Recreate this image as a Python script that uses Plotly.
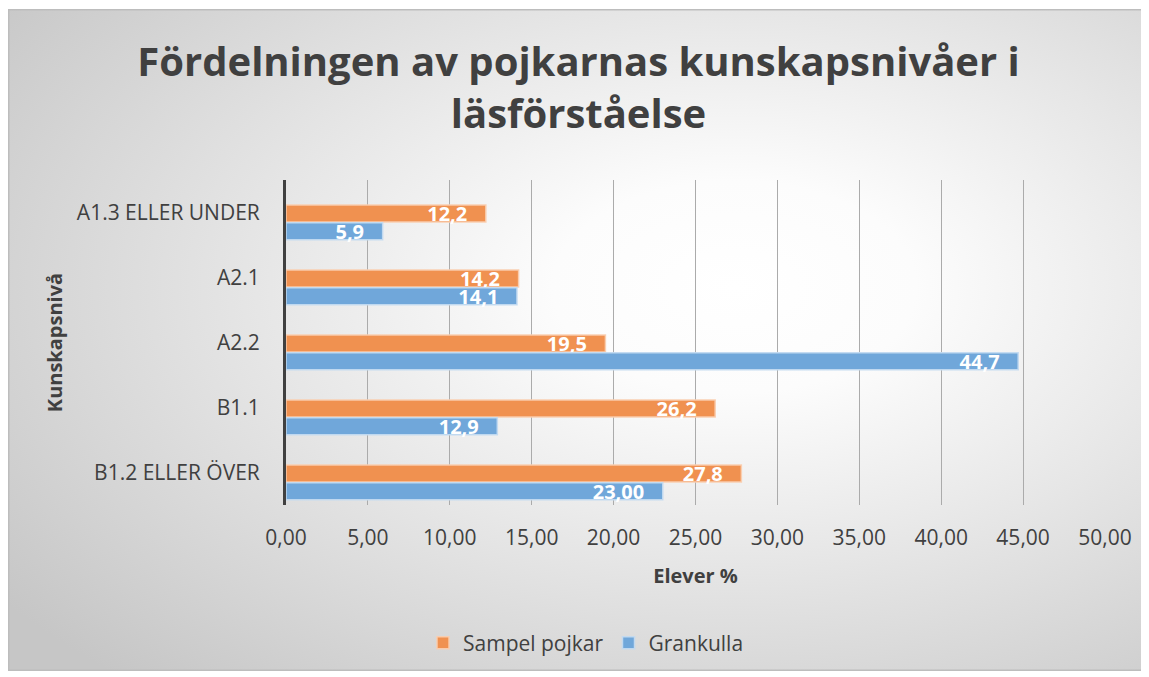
import base64
import plotly.graph_objects as go

categories = ["A1.3 ELLER UNDER", "A2.1", "A2.2", "B1.1", "B1.2 ELLER ÖVER"]
sampel_pojkar = [12.2, 14.2, 19.5, 26.2, 27.8]
grankulla = [5.9, 14.1, 44.7, 12.9, 23.0]
sampel_labels = ["12,2", "14,2", "19,5", "26,2", "27,8"]
grankulla_labels = ["5,9", "14,1", "44,7", "12,9", "23,00"]
x_ticks = [0, 5, 10, 15, 20, 25, 30, 35, 40, 45, 50]
x_ticklabels = ["0,00", "5,00", "10,00", "15,00", "20,00", "25,00", "30,00", "35,00", "40,00", "45,00", "50,00"]

# page body has an 8px margin, so the figure is sized 8px smaller
W, H = 1141, 669
ML, MR, MT, MB = 278, 44, 172, 172
FONT = "Open Sans, sans-serif"
DARK = "#404040"

pw = W - ML - MR
ph = H - MT - MB
bx0, by0, bx1, by1 = 0, 1, 1135, 663

svg = f'''<svg xmlns="http://www.w3.org/2000/svg" width="1135" height="662" viewBox="0 0 1135 662" preserveAspectRatio="none">
<defs><radialGradient id="g" cx="0.64" cy="0.42" r="0.8" gradientUnits="objectBoundingBox">
<stop offset="0" stop-color="#ffffff"/><stop offset="0.2" stop-color="#fcfcfc"/><stop offset="1" stop-color="#c6c6c6"/></radialGradient></defs>
<rect x="0" y="0" width="1135" height="662" fill="url(#g)" stroke="#bdbdbd" stroke-width="3"/></svg>'''
src = "data:image/svg+xml;base64," + base64.b64encode(svg.encode()).decode()

label_font = dict(color="white", size=20, family=FONT, weight="bold")
pad = "\u00a0\u00a0\u00a0"

fig = go.Figure()
fig.add_trace(go.Bar(
    name="Sampel pojkar", y=categories, x=sampel_pojkar, orientation="h",
    width=0.26, offset=-0.115,
    marker=dict(color="rgb(240,145,80)", line=dict(color="rgba(250,205,175,0.95)", width=1.5)),
    text=sampel_labels, texttemplate="%{text}" + pad, textposition="inside",
    insidetextanchor="end", constraintext="none", textfont=label_font,
    hoverinfo="x+y",
))
fig.add_trace(go.Bar(
    name="Grankulla", y=categories, x=grankulla, orientation="h",
    width=0.26, offset=0.158,
    marker=dict(color="rgb(112,167,218)", line=dict(color="rgba(195,218,240,0.95)", width=1.5)),
    text=grankulla_labels, texttemplate="%{text}" + pad, textposition="inside",
    insidetextanchor="end", constraintext="none", textfont=label_font,
    hoverinfo="x+y",
))

fig.update_layout(
    width=W, height=H,
    margin=dict(l=ML, r=MR, t=MT, b=MB),
    paper_bgcolor="white", plot_bgcolor="rgba(0,0,0,0)",
    barmode="overlay",
    font=dict(family=FONT, color=DARK),
    title=dict(text="Fördelningen av pojkarnas kunskapsnivåer i<br>läsförståelse",
               x=0.5, xanchor="center", y=0.899, yanchor="top",
               font=dict(size=40, color=DARK, family=FONT, weight="bold")),
    xaxis=dict(range=[0, 50], tickvals=x_ticks, ticktext=x_ticklabels,
               showgrid=True, gridcolor="#ababab", gridwidth=1, zeroline=False,
               showline=False, ticks="outside", ticklen=14, tickcolor="rgba(0,0,0,0)",
               tickfont=dict(size=21, color=DARK),
               title=dict(text="<b>Elever %</b>", font=dict(size=20, color=DARK), standoff=18)),
    yaxis=dict(autorange="reversed", showline=True, linecolor=DARK, linewidth=3,
               ticks="", tickfont=dict(size=21, color=DARK), ticklabelstandoff=19,
               title=dict(text="<b>Kunskapsnivå</b>", font=dict(size=20, color=DARK), standoff=9)),
    legend=dict(orientation="h", x=(415 - ML) / pw, xanchor="left",
                y=(H - MB - 635) / ph, yanchor="middle", font=dict(size=21, color=DARK),
                bgcolor="rgba(0,0,0,0)", itemwidth=30, traceorder="normal"),
    images=[dict(source=src, xref="paper", yref="paper",
                 x=(bx0 - ML) / pw, y=(H - MB - by0) / ph,
                 sizex=(bx1 - bx0) / pw, sizey=(by1 - by0) / ph,
                 xanchor="left", yanchor="top", sizing="stretch", layer="below")],
)

fig.write_html("out.html")
